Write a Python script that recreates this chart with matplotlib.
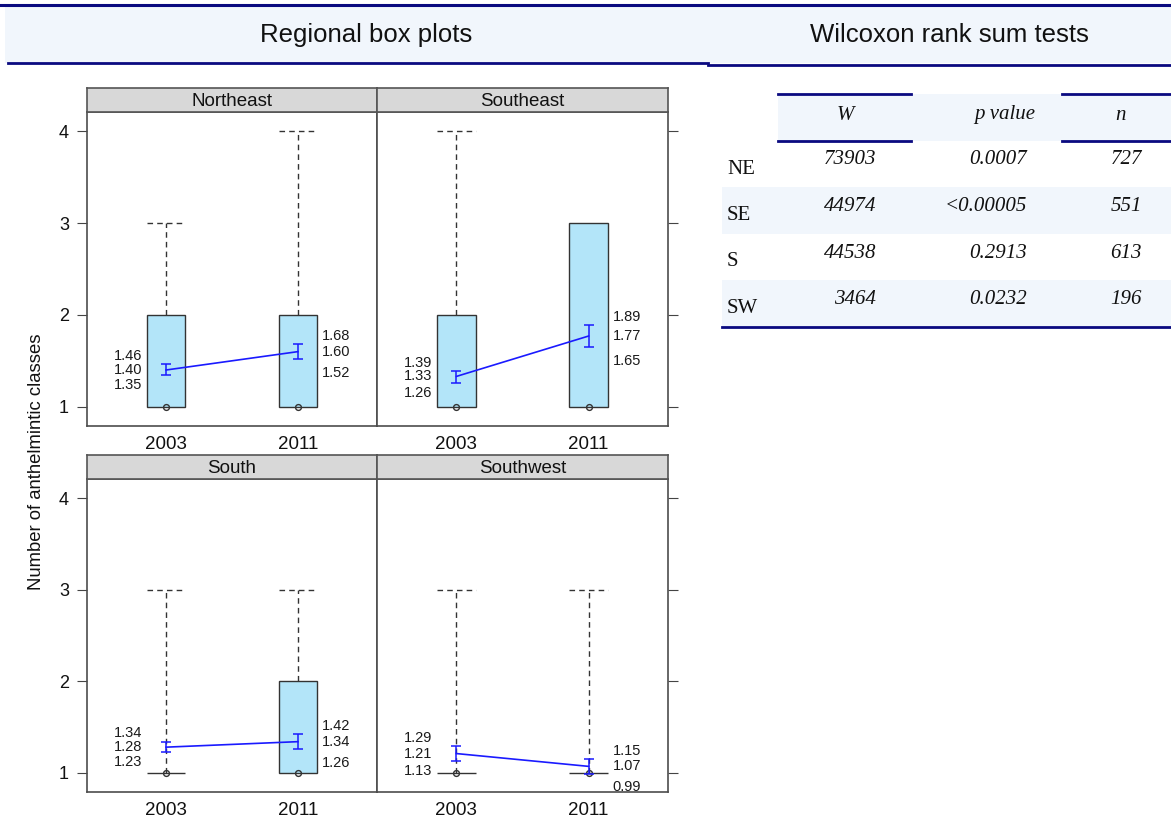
import matplotlib
matplotlib.use("Agg")
import matplotlib.pyplot as plt
from matplotlib.patches import Rectangle
from matplotlib.lines import Line2D
import numpy as np

# ---------------- data ----------------
regions = ["Northeast", "Southeast", "South", "Southwest"]
years = ["2003", "2011"]
box_q1 = [[1, 1], [1, 1], [1, 1], [1, 1]]
box_q3 = [[2, 2], [2, 3], [1, 2], [1, 1]]
box_median = [[1, 1], [1, 1], [1, 1], [1, 1]]
whisker_hi = [[3, 4], [4, 3], [3, 3], [3, 3]]
mean_vals = [[1.40, 1.60], [1.33, 1.77], [1.28, 1.34], [1.21, 1.07]]
ci_lo = [[1.35, 1.52], [1.26, 1.65], [1.23, 1.26], [1.13, 0.99]]
ci_hi = [[1.46, 1.68], [1.39, 1.89], [1.34, 1.42], [1.29, 1.15]]

table_rows = ["NE", "SE", "S", "SW"]
table_W = ["73903", "44974", "44538", "3464"]
table_p = ["0.0007", "<0.00005", "0.2913", "0.0232"]
table_n = ["727", "551", "613", "196"]
table_header = ["W", "p value", "n"]

# ---------------- style ----------------
W_PX, H_PX = 1171, 821
NAVY = "#0a0a80"
BAND = "#F1F6FC"
BOX_FILL = "#B3E5F9"
DARK = "#333333"
BLUE = "#1a1aff"
SANS = ["Liberation Sans", "DejaVu Sans"]
SERIF = ["Liberation Serif", "DejaVu Serif"]

fig = plt.figure(figsize=(W_PX / 100, H_PX / 100), dpi=100)
fig.patch.set_facecolor("white")


def fx(x):
    return x / W_PX


def fy(y):
    return 1 - y / H_PX


def frect(x0, y0, x1, y1, **kw):
    fig.patches.append(Rectangle((fx(x0), fy(y1)), fx(x1) - fx(x0), fy(y0) - fy(y1),
                                 transform=fig.transFigure, **kw))


def fline(x0, x1, y, **kw):
    fig.lines.append(Line2D([fx(x0), fx(x1)], [fy(y), fy(y)], transform=fig.transFigure, **kw))


# ---------------- header ----------------
frect(5, 6, 1171, 63, facecolor=BAND, edgecolor="none", zorder=0)
fline(0, 1171, 5.5, color=NAVY, lw=2.2)
fline(8, 708, 63, color=NAVY, lw=2.0)
fline(708, 1171, 65, color=NAVY, lw=2.0)
fig.text(fx(366), fy(35), "Regional box plots", ha="center", va="center",
         fontsize=18.5, family=SANS, color="#111111")
fig.text(fx(949), fy(35), "Wilcoxon rank sum tests", ha="center", va="center",
         fontsize=18.5, family=SANS, color="#111111")

# ---------------- panels ----------------
col_x = [(87, 377), (377, 668)]
row_y = [(88, 112, 426), (455, 479, 792)]  # strip top, panel top, panel bottom
half_w = 0.145

for i, region in enumerate(regions):
    r, c = divmod(i, 2)
    x0, x1 = col_x[c]
    st, pt, pb = row_y[r]
    ax = fig.add_axes([fx(x0), fy(pb), fx(x1) - fx(x0), fy(pt) - fy(pb)])
    sax = fig.add_axes([fx(x0), fy(pt), fx(x1) - fx(x0), fy(st) - fy(pt)])
    sax.set_facecolor("#D8D8D8")
    sax.set_xticks([]); sax.set_yticks([])
    for s in sax.spines.values():
        s.set_color("#555555"); s.set_linewidth(1.2)
    sax.text(0.5, 0.45, region, ha="center", va="center", fontsize=13.5,
             family=SANS, color="#111111", transform=sax.transAxes)

    ax.set_xlim(0.4, 2.6)
    ax.set_ylim(0.79, 4.21)
    for s in ax.spines.values():
        s.set_color("#4d4d4d"); s.set_linewidth(1.2)
    ax.set_xticks([1, 2])
    ax.set_xticklabels(years, family=SANS, fontsize=13.5, color="#111111")
    ax.tick_params(axis="x", length=0, pad=7)
    ax.set_yticks([1, 2, 3, 4])
    if c == 0:
        ax.set_yticklabels(["1", "2", "3", "4"], family=SANS, fontsize=13, color="#111111")
        ax.tick_params(axis="y", left=True, right=False, length=7, width=0.8,
                       color="#444444", pad=6)
    else:
        ax.tick_params(axis="y", left=False, right=True, labelleft=False,
                       labelright=False, length=7, width=0.8, color="#444444")

    for j in range(2):
        x = j + 1
        q1, q3 = box_q1[i][j], box_q3[i][j]
        ax.add_patch(Rectangle((x - half_w, q1), 2 * half_w, q3 - q1,
                               facecolor=BOX_FILL, edgecolor=DARK, lw=1.0, zorder=2))
        wh = whisker_hi[i][j]
        if wh > q3:
            ax.plot([x, x], [q3, wh], color=DARK, lw=1.0, ls=(0, (4, 3)), zorder=2)
            ax.plot([x - half_w, x + half_w], [wh, wh], color=DARK, lw=1.0,
                    ls=(0, (4, 3)), zorder=2)
        ax.plot([x], [box_median[i][j]], "o", mfc="none", mec=DARK, ms=4.2,
                mew=1.0, zorder=3)

    xs = np.array([1, 2])
    m = np.array(mean_vals[i])
    lo = np.array(ci_lo[i])
    hi = np.array(ci_hi[i])
    ax.plot(xs, m, color=BLUE, lw=1.2, zorder=4)
    ax.errorbar(xs, m, yerr=[m - lo, hi - m], fmt="none", ecolor=BLUE,
                elinewidth=1.1, capsize=3.8, capthick=1.1, zorder=4)

    lower_off = [0.11, 0.15]
    for j in range(2):
        x = j + 1
        if j == 0:
            tx, ha = x - 0.18, "right"
        else:
            tx, ha = x + 0.18, "left"
        kw = dict(ha=ha, va="center", fontsize=10.5, family=SANS, color="#1a1a1a", zorder=5)
        ax.text(tx, hi[j] + 0.09, f"{hi[j]:.2f}", **kw)
        ax.text(tx, m[j], f"{m[j]:.2f}", **kw)
        ax.text(tx, lo[j] - lower_off[j], f"{lo[j]:.2f}", **kw)

fig.text(fx(37), fy(462), "Number of anthelmintic classes", rotation=90,
         ha="center", va="center", fontsize=13.3, family=SANS, color="#111111")

# ---------------- table ----------------
hdr_top, hdr_bot = 94, 141
row_h = 46.5
frect(778, hdr_top, 1171, hdr_bot, facecolor=BAND, edgecolor="none")
for k in range(len(table_rows)):
    top = hdr_bot + k * row_h
    if k % 2 == 1:
        frect(722, top, 1171, top + row_h, facecolor=BAND, edgecolor="none")
for yy in (hdr_top, hdr_bot):
    fline(778, 911, yy, color=NAVY, lw=2.0)
    fline(1062, 1171, yy, color=NAVY, lw=2.0)
fline(722, 1171, hdr_bot + len(table_rows) * row_h, color=NAVY, lw=2.0)

hdr_x = [845, 1005, 1121]
for hx, h in zip(hdr_x, table_header):
    fig.text(fx(hx), fy(115), h, ha="center", va="center", fontsize=15,
             family=SERIF, style="italic", color="#111111")

for k, lab in enumerate(table_rows):
    top = hdr_bot + k * row_h
    fig.text(fx(727), fy(top + 28), lab, ha="left", va="center", fontsize=15,
             family=SERIF, color="#111111")
    fig.text(fx(876), fy(top + 19), table_W[k], ha="right", va="center", fontsize=15,
             family=SERIF, style="italic", color="#111111")
    fig.text(fx(1027), fy(top + 19), table_p[k], ha="right", va="center", fontsize=15,
             family=SERIF, style="italic", color="#111111")
    fig.text(fx(1142), fy(top + 19), table_n[k], ha="right", va="center", fontsize=15,
             family=SERIF, style="italic", color="#111111")

fig.savefig("out.png", dpi=100)
